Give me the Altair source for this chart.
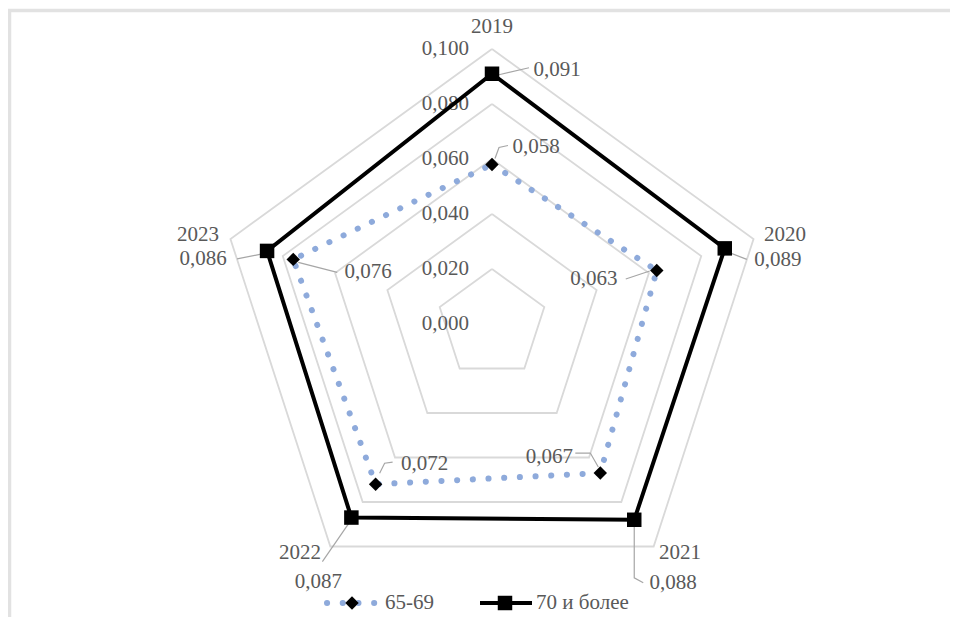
import numpy as np
import pandas as pd
import altair as alt

# ---------------- data ----------------
categories = ["2019", "2020", "2021", "2022", "2023"]
series_names = ["65-69", "70 и более"]
values_65_69 = [0.058, 0.063, 0.067, 0.072, 0.076]
values_70 = [0.091, 0.089, 0.088, 0.087, 0.086]
grid_levels = [0.000, 0.020, 0.040, 0.060, 0.080, 0.100]

# ---------------- layout (pixels) ----------------
W, H = 942, 609
CX, CY = 484, 316        # centre of the radar inside the plot
K = 2750.0               # pixels per unit of value
FONT = "Liberation Serif"
TXT = "#595959"
FS = 21

# label offsets (px, relative to the marker), leader polylines (px, relative to marker)
lab65_off = [(44, -18), (-63, 8.5), (-51, -16), (49, -20), (75, 13)]
lab70_off = [(65, -4), (53, 11.6), (39, 63), (-33, 64), (-64, 8)]
lead65 = [[(3, -6), (7, -17), (16, -19)], [(-31, 8.5), (-7, 0.5)],
          [(-25, -20), (-10, -20), (-2, -6)], [(4, -11), (9, -21), (17, -22)],
          [(5, 3), (44, 13)]]
lead70 = [[(7, 1), (37, -6)], [(4, 4), (22, 11)], [(0, 3), (0, 58), (9, 63)],
          [(0, 2), (-29, 44)], [(-30, 8), (-5, 3)]]
cat_off = [(0, -22), (31.5, -4), (26.4, 6.5), (-30.4, 6.5), (-32.5, -4)]

xdom = [-CX / K, (W - CX) / K]
ydom = [-(H - CY) / K, CY / K]
N = len(categories)


def polar(v, i):
    a = 2 * np.pi * i / N
    return v * np.sin(a), v * np.cos(a)


def fmt(v):
    return f"{v:.3f}".replace(".", ",")


X = lambda f="x": alt.X(f"{f}:Q", scale=alt.Scale(domain=xdom, nice=False, zero=False), axis=None)
Y = lambda f="y": alt.Y(f"{f}:Q", scale=alt.Scale(domain=ydom, nice=False, zero=False), axis=None)

# grid
grid_rows = []
for lev in grid_levels[1:]:
    for i in range(N + 1):
        x, y = polar(lev, i % N)
        grid_rows.append({"lev": lev, "i": i, "x": x, "y": y})
grid_df = pd.DataFrame(grid_rows)

# axis labels
axis_df = pd.DataFrame({"lev": grid_levels, "t": [fmt(v) for v in grid_levels]})
axis_df["x"] = -23 / K
axis_df["y"] = axis_df["lev"]


def series_frames(vals, offs, leads):
    line, pts, labs, leaders = [], [], [], []
    for i in range(N + 1):
        x, y = polar(vals[i % N], i % N)
        line.append({"i": i, "x": x, "y": y})
    for i in range(N):
        x, y = polar(vals[i], i)
        pts.append({"i": i, "x": x, "y": y})
        dx, dy = offs[i]
        labs.append({"x": x + dx / K, "y": y - dy / K, "t": fmt(vals[i])})
        for j, (lx, ly) in enumerate(leads[i]):
            leaders.append({"lid": i, "o": j, "x": x + lx / K, "y": y - ly / K})
    return (pd.DataFrame(line), pd.DataFrame(pts), pd.DataFrame(labs), pd.DataFrame(leaders))


l65, p65, t65, ld65 = series_frames(values_65_69, lab65_off, lead65)
l70, p70, t70, ld70 = series_frames(values_70, lab70_off, lead70)

cat_rows = []
for i, c in enumerate(categories):
    x, y = polar(grid_levels[-1], i)
    dx, dy = cat_off[i]
    cat_rows.append({"x": x + dx / K, "y": y - dy / K, "t": c})
cat_df = pd.DataFrame(cat_rows)

# ---------------- layers ----------------
frame_top = alt.Chart(pd.DataFrame({"a": [0]})).mark_rule(color="#e2e2e2", strokeWidth=3.5).encode(
    x=alt.value(-1), x2=alt.value(W), y=alt.value(2.5))
frame_left = alt.Chart(pd.DataFrame({"a": [0]})).mark_rule(color="#e2e2e2", strokeWidth=3.5).encode(
    x=alt.value(1.5), y=alt.value(1), y2=alt.value(H))

grid = alt.Chart(grid_df).mark_line(color="#d9d9d9", strokeWidth=1.8).encode(
    x=X(), y=Y(), detail="lev:N", order="i:Q")

axis_lab = alt.Chart(axis_df).mark_text(align="right", baseline="middle", font=FONT,
                                        fontSize=FS, color=TXT).encode(x=X(), y=Y(), text="t:N")

leaders = alt.layer(
    alt.Chart(ld65).mark_line(color="#a6a6a6", strokeWidth=1.2).encode(x=X(), y=Y(), detail="lid:N", order="o:Q"),
    alt.Chart(ld70).mark_line(color="#a6a6a6", strokeWidth=1.2).encode(x=X(), y=Y(), detail="lid:N", order="o:Q"),
)

line65 = alt.Chart(l65).mark_line(color="#8eaadb", strokeWidth=6, strokeCap="round",
                                  strokeDash=[0.1, 15.6]).encode(x=X(), y=Y(), order="i:Q")
line70 = alt.Chart(l70).mark_line(color="black", strokeWidth=4, strokeJoin="miter").encode(
    x=X(), y=Y(), order="i:Q")
pts65 = alt.Chart(p65).mark_point(shape="diamond", filled=True, size=180, color="black",
                                  opacity=1).encode(x=X(), y=Y())
pts70 = alt.Chart(p70).mark_point(shape="square", filled=True, size=210, color="black",
                                  opacity=1).encode(x=X(), y=Y())

txt65 = alt.Chart(t65).mark_text(align="center", baseline="middle", font=FONT, fontSize=FS,
                                 color=TXT).encode(x=X(), y=Y(), text="t:N")
txt70 = alt.Chart(t70).mark_text(align="center", baseline="middle", font=FONT, fontSize=FS,
                                 color=TXT).encode(x=X(), y=Y(), text="t:N")
cats = alt.Chart(cat_df).mark_text(align="center", baseline="middle", font=FONT, fontSize=FS,
                                   color=TXT).encode(x=X(), y=Y(), text="t:N")

# legend (manual)
LY = 595
one = pd.DataFrame({"a": [0]})
leg1_line = alt.Chart(one).mark_rule(color="#8eaadb", strokeWidth=6, strokeCap="round",
                                     strokeDash=[0.1, 15.6]).encode(
    x=alt.value(319), x2=alt.value(368), y=alt.value(LY))
leg1_pt = alt.Chart(one).mark_point(shape="diamond", filled=True, size=180, color="black",
                                    opacity=1).encode(x=alt.value(344), y=alt.value(LY))
leg1_txt = alt.Chart(pd.DataFrame({"t": [series_names[0]]})).mark_text(
    align="left", baseline="middle", font=FONT, fontSize=FS, color=TXT).encode(
    x=alt.value(377), y=alt.value(LY), text="t:N")
leg2_line = alt.Chart(one).mark_rule(color="black", strokeWidth=4).encode(
    x=alt.value(472), x2=alt.value(524), y=alt.value(LY))
leg2_pt = alt.Chart(one).mark_point(shape="square", filled=True, size=210, color="black",
                                    opacity=1).encode(x=alt.value(497), y=alt.value(LY))
leg2_txt = alt.Chart(pd.DataFrame({"t": [series_names[1]]})).mark_text(
    align="left", baseline="middle", font=FONT, fontSize=FS, color=TXT).encode(
    x=alt.value(528), y=alt.value(LY), text="t:N")

chart = alt.layer(
    frame_top, frame_left, grid, axis_lab, leaders, line65, line70, pts65, pts70,
    txt65, txt70, cats, leg1_line, leg1_pt, leg1_txt, leg2_line, leg2_pt, leg2_txt
).properties(
    width=W, height=H, padding=0, autosize=alt.AutoSizeParams(type="none"), background="white"
).configure_view(stroke=None)

chart.save("out.html", embed_options={"renderer": "svg", "actions": False})
